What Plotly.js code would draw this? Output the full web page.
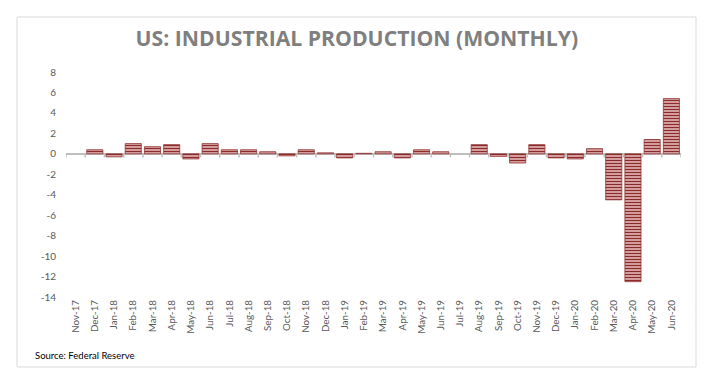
<!DOCTYPE html>
<html>
<head>
<meta charset="utf-8">
<script src="https://cdn.plot.ly/plotly-3.0.1.min.js"></script>
<style>
html,body{margin:0;padding:0;background:#fff;}
#chart{width:718px;height:384px;}
</style>
</head>
<body>
<div id="chart"></div>
<script>
const months = ["Nov-17","Dec-17","Jan-18","Feb-18","Mar-18","Apr-18","May-18","Jun-18","Jul-18","Aug-18","Sep-18","Oct-18","Nov-18","Dec-18","Jan-19","Feb-19","Mar-19","Apr-19","May-19","Jun-19","Jul-19","Aug-19","Sep-19","Oct-19","Nov-19","Dec-19","Jan-20","Feb-20","Mar-20","Apr-20","May-20","Jun-20"];
const changePct = [0.0,0.4,-0.3,1.0,0.7,0.9,-0.5,1.0,0.4,0.4,0.2,-0.2,0.4,0.1,-0.4,0.05,0.2,-0.4,0.4,0.2,0.0,0.9,-0.25,-0.9,0.9,-0.4,-0.5,0.5,-4.5,-12.5,1.4,5.4];
const yTicks = [8,6,4,2,0,-2,-4,-6,-8,-10,-12,-14];

const trace = {
  type: 'bar',
  x: months.map((m,i)=>i),
  y: changePct,
  width: 0.84,
  marker: {
    color: '#e9baba',
    line: {color: '#8c2b2b', width: changePct.map(v => v === 0 ? 0 : 0.75)},
    pattern: {shape: '-', fgcolor: '#8c2b2b', bgcolor: '#ebc2c2', size: 3, solidity: 0.5}
  },
  hoverinfo: 'x+y'
};

const shapes = [];
// category boundary tick marks on the zero line
for (let i = 0; i <= months.length; i++) {
  shapes.push({type:'line', xref:'x', yref:'y', x0:i-0.5, x1:i-0.5, y0:0, y1:-0.35,
    line:{color:'#bfbfbf', width:1.5}});
}
// chart border
shapes.push({type:'rect', xref:'paper', yref:'paper', x0:-0.0797, x1:1.0244, y0:-0.311, y1:1.2444,
  line:{color:'#d9d9d9', width:1}, fillcolor:'rgba(0,0,0,0)'});

const layout = {
  width: 718, height: 384,
  margin: {l: 66, r: 37, t: 72, b: 87},
  paper_bgcolor: '#ffffff', plot_bgcolor: '#ffffff',
  showlegend: false,
  title: {text: 'US: INDUSTRIAL PRODUCTION (MONTHLY)', x: 0.497, xanchor: 'center', y: 0.8984, yanchor: 'middle',
    font: {family: 'Open Sans, sans-serif', size: 21.2, color: '#7f7f7f', weight: 'bold'}},
  xaxis: {
    tickmode: 'array', tickvals: months.map((m,i)=>i), ticktext: months,
    tickangle: -90, range: [-0.5, months.length - 0.5],
    showgrid: false, zeroline: false, showline: false, ticks: '',
    tickfont: {family: 'Lato, sans-serif', size: 9.8, color: '#595959'},
    fixedrange: true
  },
  yaxis: {
    range: [-14, 8], tickmode: 'array', tickvals: yTicks, ticktext: yTicks.map(String),
    showgrid: false, zeroline: true, zerolinecolor: '#bfbfbf', zerolinewidth: 2,
    showline: false, ticks: '', ticklabelstandoff: 9,
    tickfont: {family: 'Lato, sans-serif', size: 10, color: '#595959'},
    fixedrange: true
  },
  shapes: shapes,
  annotations: [{text: 'Source: Federal Reserve', xref: 'paper', yref: 'paper', x: -0.0537, y: -0.258,
    xanchor: 'left', yanchor: 'middle', showarrow: false,
    font: {family: 'Lato, sans-serif', size: 9.5, color: '#000000'}}]
};

Plotly.newPlot('chart', [trace], layout, {displayModeBar: false, staticPlot: true});
</script>
</body>
</html>
